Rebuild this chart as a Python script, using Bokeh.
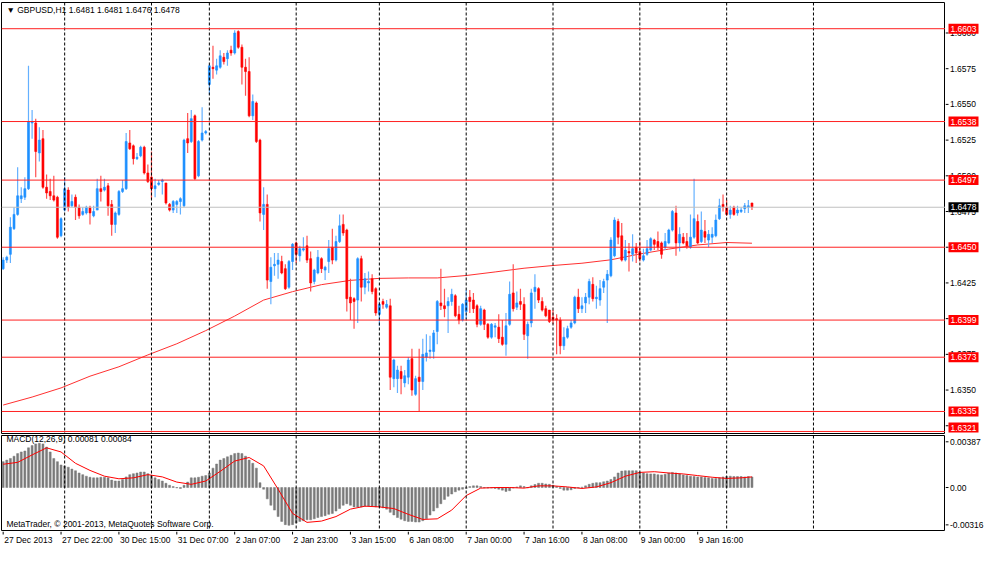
from bokeh.plotting import figure
from bokeh.models import Range1d, Span, Label
from bokeh.layouts import column, row
from bokeh.core.properties import value
from bokeh.embed import file_html
from bokeh.resources import INLINE

FONT = "Liberation Sans"
FS = "8.5px"

# ---------------- data (GBPUSD H1) ----------------
opens = [1.6435,1.6441,1.6445,1.6463,1.6473,1.6484,1.6485,1.6491,1.6537,1.6537,
 1.6516,1.6526,1.6492,1.6489,1.6486,1.6485,1.6458,1.6476,1.6490,1.6479,
 1.6485,1.6478,1.6473,1.6474,1.6478,1.6472,1.6476,1.6491,1.6490,1.6493,
 1.6480,1.6466,1.6473,1.6489,1.6491,1.6523,1.6521,1.6512,1.6514,1.6520,
 1.6502,1.6499,1.6491,1.6494,1.6496,1.6495,1.6480,1.6476,1.6480,1.6482,
 1.6479,1.6526,1.6524,1.6542,1.6500,1.6525,1.6530,1.6564,1.6576,1.6574,
 1.6576,1.6583,1.6582,1.6588,1.6586,1.6601,1.6590,1.6576,1.6573,1.6542,
 1.6551,1.6525,1.6473,1.6480,1.6426,1.6437,1.6438,1.6440,1.6435,1.6422,
 1.6440,1.6453,1.6444,1.6448,1.6451,1.6442,1.6426,1.6432,1.6442,1.6434,
 1.6440,1.6450,1.6441,1.6454,1.6466,1.6462,1.6415,1.6414,1.6413,1.6442,
 1.6422,1.6425,1.6428,1.6421,1.6403,1.6412,1.6408,1.6409,1.6358,1.6358,
 1.6363,1.6355,1.6359,1.6372,1.6347,1.6359,1.6356,1.6373,1.6377,1.6377,
 1.6391,1.6411,1.6409,1.6409,1.6412,1.6416,1.6403,1.6399,1.6405,1.6415,
 1.6413,1.6409,1.6396,1.6406,1.6396,1.6387,1.6394,1.6394,1.6387,1.6382,
 1.6396,1.6418,1.6408,1.6412,1.6410,1.6388,1.6397,1.6419,1.6421,1.6412,
 1.6407,1.6406,1.6401,1.6400,1.6399,1.6381,1.6387,1.6394,1.6397,1.6415,
 1.6407,1.6411,1.6415,1.6424,1.6414,1.6413,1.6422,1.6427,1.6430,1.6444,
 1.6468,1.6458,1.6441,1.6447,1.6445,1.6450,1.6447,1.6441,1.6445,1.6448,
 1.6455,1.6454,1.6453,1.6450,1.6453,1.6462,1.6474,1.6453,1.6457,1.6454,
 1.6450,1.6457,1.6468,1.6454,1.6461,1.6455,1.6457,1.6458,1.6470,1.6480,
 1.6478,1.6473,1.6478,1.6474,1.6475,1.6477,1.6478,1.6481]
closes = [1.6441,1.6443,1.6464,1.6473,1.6486,1.6486,1.6491,1.6538,1.6538,1.6517,
 1.6525,1.6492,1.6488,1.6486,1.6483,1.6457,1.6470,1.6491,1.6478,1.6482,
 1.6478,1.6472,1.6475,1.6478,1.6474,1.6475,1.6491,1.6489,1.6492,1.6479,
 1.6466,1.6474,1.6489,1.6491,1.6524,1.6519,1.6512,1.6513,1.6520,1.6502,
 1.6496,1.6491,1.6493,1.6495,1.6497,1.6481,1.6476,1.6482,1.6482,1.6484,
 1.6525,1.6523,1.6540,1.6498,1.6524,1.6530,1.6531,1.6577,1.6575,1.6577,
 1.6584,1.6580,1.6586,1.6586,1.6600,1.6590,1.6576,1.6573,1.6542,1.6552,
 1.6524,1.6474,1.6480,1.6427,1.6436,1.6438,1.6441,1.6432,1.6421,1.6440,
 1.6452,1.6445,1.6449,1.6449,1.6441,1.6425,1.6434,1.6443,1.6435,1.6436,
 1.6449,1.6441,1.6454,1.6465,1.6460,1.6414,1.6411,1.6412,1.6442,1.6422,
 1.6428,1.6426,1.6419,1.6404,1.6410,1.6410,1.6410,1.6359,1.6371,1.6364,
 1.6358,1.6360,1.6371,1.6350,1.6358,1.6356,1.6375,1.6376,1.6378,1.6390,
 1.6412,1.6409,1.6407,1.6412,1.6417,1.6402,1.6399,1.6410,1.6413,1.6412,
 1.6407,1.6396,1.6407,1.6396,1.6387,1.6396,1.6395,1.6386,1.6382,1.6395,
 1.6417,1.6407,1.6411,1.6410,1.6389,1.6396,1.6418,1.6422,1.6413,1.6406,
 1.6402,1.6398,1.6399,1.6399,1.6381,1.6387,1.6393,1.6397,1.6415,1.6407,
 1.6409,1.6415,1.6426,1.6414,1.6415,1.6421,1.6426,1.6431,1.6455,1.6469,
 1.6457,1.6441,1.6448,1.6446,1.6449,1.6446,1.6442,1.6444,1.6449,1.6456,
 1.6452,1.6450,1.6445,1.6454,1.6462,1.6475,1.6453,1.6459,1.6453,1.6451,
 1.6457,1.6470,1.6453,1.6462,1.6457,1.6459,1.6459,1.6469,1.6479,1.6478,
 1.6473,1.6476,1.6473,1.6476,1.6476,1.6479,1.6479,1.6478]
highs = [1.6443,1.6444,1.6471,1.6478,1.6506,1.6492,1.6499,1.6577,1.6546,1.6540,
 1.6534,1.6532,1.6501,1.6498,1.6500,1.6486,1.6471,1.6499,1.6492,1.6487,
 1.6487,1.6480,1.6478,1.6479,1.6479,1.6479,1.6498,1.6500,1.6498,1.6495,
 1.6483,1.6475,1.6490,1.6497,1.6530,1.6532,1.6522,1.6516,1.6521,1.6521,
 1.6508,1.6517,1.6498,1.6497,1.6498,1.6495,1.6481,1.6483,1.6483,1.6485,
 1.6526,1.6544,1.6546,1.6543,1.6525,1.6548,1.6532,1.6578,1.6591,1.6582,
 1.6588,1.6586,1.6588,1.6591,1.6602,1.6602,1.6592,1.6582,1.6583,1.6557,
 1.6552,1.6526,1.6492,1.6487,1.6443,1.6446,1.6446,1.6444,1.6438,1.6441,
 1.6453,1.6454,1.6451,1.6457,1.6458,1.6447,1.6435,1.6448,1.6443,1.6437,
 1.6455,1.6463,1.6458,1.6473,1.6473,1.6463,1.6428,1.6415,1.6443,1.6444,
 1.6432,1.6433,1.6431,1.6422,1.6412,1.6414,1.6413,1.6414,1.6372,1.6367,
 1.6367,1.6364,1.6373,1.6379,1.6360,1.6379,1.6386,1.6389,1.6388,1.6392,
 1.6413,1.6435,1.6421,1.6415,1.6421,1.6417,1.6409,1.6411,1.6420,1.6420,
 1.6418,1.6410,1.6409,1.6407,1.6397,1.6397,1.6397,1.6403,1.6399,1.6404,
 1.6426,1.6438,1.6419,1.6421,1.6415,1.6398,1.6421,1.6431,1.6422,1.6415,
 1.6409,1.6406,1.6406,1.6403,1.6401,1.6394,1.6395,1.6399,1.6416,1.6421,
 1.6415,1.6418,1.6428,1.6429,1.6423,1.6427,1.6428,1.6434,1.6457,1.6471,
 1.6470,1.6467,1.6455,1.6453,1.6459,1.6453,1.6454,1.6449,1.6455,1.6457,
 1.6456,1.6461,1.6454,1.6460,1.6463,1.6476,1.6479,1.6464,1.6460,1.6460,
 1.6473,1.6498,1.6473,1.6475,1.6469,1.6462,1.6464,1.6473,1.6484,1.6487,
 1.6483,1.6479,1.6479,1.6479,1.6478,1.6481,1.6483,1.6481]
lows = [1.6434,1.6439,1.6439,1.6462,1.6472,1.6481,1.6483,1.6490,1.6526,1.6499,
 1.6510,1.6491,1.6484,1.6483,1.6482,1.6456,1.6457,1.6475,1.6475,1.6478,
 1.6469,1.6470,1.6472,1.6473,1.6466,1.6471,1.6476,1.6482,1.6489,1.6472,
 1.6458,1.6460,1.6472,1.6488,1.6490,1.6518,1.6508,1.6511,1.6513,1.6501,
 1.6495,1.6484,1.6485,1.6493,1.6487,1.6480,1.6475,1.6474,1.6474,1.6473,
 1.6478,1.6516,1.6523,1.6497,1.6499,1.6524,1.6529,1.6557,1.6568,1.6571,
 1.6575,1.6578,1.6577,1.6584,1.6585,1.6589,1.6564,1.6556,1.6541,1.6539,
 1.6523,1.6468,1.6462,1.6421,1.6410,1.6430,1.6428,1.6431,1.6420,1.6421,
 1.6434,1.6439,1.6440,1.6447,1.6439,1.6419,1.6424,1.6431,1.6432,1.6427,
 1.6432,1.6438,1.6440,1.6453,1.6458,1.6405,1.6399,1.6393,1.6397,1.6412,
 1.6417,1.6419,1.6417,1.6402,1.6395,1.6407,1.6407,1.6350,1.6352,1.6348,
 1.6347,1.6352,1.6354,1.6346,1.6346,1.6335,1.6350,1.6370,1.6372,1.6372,
 1.6382,1.6406,1.6401,1.6390,1.6409,1.6401,1.6396,1.6398,1.6400,1.6404,
 1.6404,1.6394,1.6395,1.6392,1.6386,1.6386,1.6387,1.6383,1.6381,1.6374,
 1.6395,1.6405,1.6406,1.6406,1.6385,1.6372,1.6394,1.6407,1.6411,1.6405,
 1.6401,1.6397,1.6396,1.6375,1.6375,1.6378,1.6386,1.6393,1.6396,1.6404,
 1.6404,1.6404,1.6410,1.6412,1.6407,1.6409,1.6418,1.6397,1.6429,1.6443,
 1.6452,1.6440,1.6440,1.6433,1.6440,1.6439,1.6440,1.6440,1.6444,1.6447,
 1.6448,1.6448,1.6442,1.6448,1.6452,1.6461,1.6444,1.6447,1.6452,1.6449,
 1.6449,1.6456,1.6452,1.6453,1.6453,1.6450,1.6453,1.6457,1.6469,1.6475,
 1.6472,1.6470,1.6472,1.6472,1.6474,1.6474,1.6474,1.6476]

# moving average read every 8 bars (+ last bar)
ma_idx = [0,8,16,24,32,40,48,56,64,72,80,88,96,104,112,120,128,136,144,152,160,168,176,184,192,200,207]
ma_vals = [1.63395,1.63451,1.63515,1.63597,1.63663,1.63746,1.63824,1.63916,1.64018,1.64130,
 1.64189,1.64238,1.64268,1.64282,1.64285,1.64285,1.64302,1.64327,1.64353,1.64372,
 1.64388,1.64412,1.64453,1.64487,1.64516,1.64533,1.64528]

macd_hist = [0.00219,0.00232,0.00246,0.00265,0.00287,0.00301,0.00309,0.00336,0.00355,0.00369,
 0.00374,0.00369,0.00342,0.00301,0.00246,0.00219,0.00191,0.00183,0.00172,0.00156,
 0.00142,0.00123,0.00109,0.00096,0.00087,0.00082,0.00082,0.00087,0.00087,0.00082,
 0.00063,0.00055,0.00055,0.00068,0.00090,0.00109,0.00117,0.00123,0.00131,0.00131,
 0.00117,0.00101,0.00082,0.00068,0.00055,0.00036,0.00019,0.00008,-0.00003,-0.00008,
 0.00019,0.00046,0.00082,0.00082,0.00087,0.00096,0.00101,0.00123,0.00164,0.00199,
 0.00232,0.00246,0.00260,0.00273,0.00287,0.00292,0.00287,0.00265,0.00232,0.00205,
 0.00164,0.00041,-0.00014,-0.00096,-0.00150,-0.00191,-0.00246,-0.00287,-0.00314,-0.00320,
 -0.00314,-0.00301,-0.00287,-0.00281,-0.00273,-0.00273,-0.00265,-0.00254,-0.00246,-0.00238,
 -0.00227,-0.00219,-0.00199,-0.00178,-0.00150,-0.00137,-0.00150,-0.00164,-0.00164,-0.00164,
 -0.00158,-0.00156,-0.00156,-0.00164,-0.00164,-0.00172,-0.00183,-0.00210,-0.00232,-0.00254,
 -0.00268,-0.00281,-0.00287,-0.00287,-0.00292,-0.00292,-0.00281,-0.00265,-0.00232,-0.00199,
 -0.00172,-0.00137,-0.00101,-0.00074,-0.00055,-0.00036,-0.00022,-0.00014,-0.00008,0.00008,
 0.00014,0.00014,0.00008,-0.00003,-0.00005,-0.00005,-0.00008,-0.00014,-0.00022,-0.00033,
 -0.00027,-0.00005,0.00005,0.00014,0.00008,-0.00003,0.00014,0.00025,0.00036,0.00036,
 0.00030,0.00027,0.00019,0.00008,-0.00008,-0.00022,-0.00022,-0.00019,-0.00008,-0.00003,
 0.00003,0.00014,0.00027,0.00036,0.00041,0.00041,0.00049,0.00055,0.00068,0.00090,
 0.00123,0.00139,0.00142,0.00142,0.00142,0.00142,0.00131,0.00123,0.00117,0.00115,
 0.00115,0.00109,0.00107,0.00112,0.00123,0.00128,0.00123,0.00115,0.00107,0.00101,
 0.00096,0.00093,0.00090,0.00090,0.00085,0.00082,0.00077,0.00077,0.00082,0.00090,
 0.00093,0.00096,0.00093,0.00093,0.00093,0.00090,0.00093,0.00090]

signal_idx = [0,4,8,12,16,20,24,28,32,36,40,44,48,52,56,60,64,68,72,76,80,84,88,92,96,100,
 104,108,112,116,120,124,128,132,136,140,144,148,152,156,160,164,168,172,176,180,184,188,192,196,200,204,207]
signal_vals = [0.00197,0.00213,0.00276,0.00336,0.00301,0.00205,0.00145,0.00096,0.00074,0.00082,
 0.00109,0.00090,0.00046,0.00027,0.00055,0.00137,0.00224,0.00254,0.00183,-0.00014,
 -0.00219,-0.00295,-0.00284,-0.00246,-0.00183,-0.00158,-0.00164,-0.00178,-0.00227,-0.00270,
 -0.00265,-0.00191,-0.00068,-0.00005,0.00000,0.00000,-0.00005,0.00014,0.00014,0.00005,
 -0.00008,0.00005,0.00041,0.00096,0.00128,0.00134,0.00123,0.00115,0.00101,0.00087,
 0.00077,0.00082,0.00090]

levels = [1.6603, 1.6538, 1.6497, 1.6450, 1.6399, 1.6373, 1.6335, 1.6321]
bid = 1.6478
day_breaks = [17, 41, 57, 81, 104, 128, 152, 176, 200, 224]
time_ticks = [0,16,32,48,64,80,96,112,128,144,160,176,192]
time_labels = ["27 Dec 2013","27 Dec 22:00","30 Dec 15:00","31 Dec 07:00","2 Jan 07:00",
 "2 Jan 23:00","3 Jan 15:00","6 Jan 08:00","7 Jan 00:00","7 Jan 16:00","8 Jan 08:00",
 "9 Jan 00:00","9 Jan 16:00"]
price_ticks = [1.6325,1.6350,1.6375,1.6400,1.6425,1.6450,1.6475,1.6500,1.6525,1.6550,1.6575,1.6600]
macd_ticks = [-0.00316, 0.0, 0.00387]
macd_tick_labels = ["-0.00316", "0.00", "0.00387"]
title_text = "\u25bc GBPUSD,H1  1.6481 1.6481 1.6476 1.6478"
macd_text = "MACD(12,26,9) 0.00081 0.00084"
copy_text = "MetaTrader, \u00a9 2001-2013, MetaQuotes Software Corp."

# ---------------- layout constants ----------------
W = 984
AXW = 39                      # right price-scale strip (px)
MAIN_H, MACD_H, TIME_H = 434, 97, 15
MAIN_FRAME = MAIN_H - 3
X0, X1 = -0.46, 260.5
xr = Range1d(X0, X1)
PY0, PY1 = 1.631958, 1.662135
pyr = Range1d(PY0, PY1)
myr = Range1d(-0.003637, 0.004403)
TAG_H = 10

def base(fig):
    fig.grid.visible = False
    fig.background_fill_color = "white"
    fig.border_fill_color = "white"
    return fig

def pane(h, yr, top, bottom):
    f = figure(width=W - AXW, height=h, x_range=xr, y_range=yr, output_backend="svg",
               toolbar_location=None, x_axis_location=None, y_axis_location=None,
               min_border_left=1, min_border_right=0, min_border_top=top,
               min_border_bottom=bottom)
    base(f)
    f.outline_line_color = "black"
    f.outline_line_alpha = 1
    f.outline_line_width = 1
    for d in day_breaks:
        f.add_layout(Span(location=d, dimension="height", line_color="black",
                          line_width=1, line_dash="3 2"))
    return f

def strip(h, yr, top, bottom):
    f = figure(width=AXW, height=h, x_range=Range1d(0, AXW), y_range=yr,
               output_backend="svg", toolbar_location=None, x_axis_location=None,
               y_axis_location=None, min_border_left=0, min_border_right=0,
               min_border_top=top, min_border_bottom=bottom)
    base(f)
    f.outline_line_color = None
    return f

def scale_labels(f, ticks, labels):
    f.segment(x0=[0] * len(ticks), x1=[3] * len(ticks), y0=ticks, y1=ticks,
              line_color="black", line_width=1)
    f.text(x=[4.5] * len(ticks), y=ticks, text=labels, text_font=value(FONT),
           text_font_size=value(FS), text_color="black", text_align="left",
           text_baseline="middle")

def tag(f, ys, labels, color):
    # keep a tag inside the pane when its level sits on the pane's lower edge
    half = (TAG_H / 2 + 1) * (PY1 - PY0) / MAIN_FRAME
    ys = [max(y, PY0 + half) for y in ys]
    f.rect(x=[18] * len(ys), y=ys, width=30, height=TAG_H, width_units="screen",
           height_units="screen", fill_color=color, line_color=None)
    f.text(x=[18] * len(ys), y=ys, text=labels, text_font=value(FONT),
           text_font_size=value(FS), text_color="white", text_align="center",
           text_baseline="middle")

# ---------------- main price pane ----------------
p = pane(MAIN_H, pyr, 2, 1)
for lv in levels:
    p.add_layout(Span(location=lv, dimension="width", line_color="#ff2020", line_width=1))
p.add_layout(Span(location=bid, dimension="width", line_color="#c0c0c0", line_width=1))

idx = list(range(len(opens)))
up = [c >= o for o, c in zip(opens, closes)]
body_col = ["#1e90ff" if u else "#ff0000" for u in up]
wick_col = ["#64b0ff" if u else "#ff5050" for u in up]
tops = [max(o, c) for o, c in zip(opens, closes)]
bots = [min(o, c) for o, c in zip(opens, closes)]

p.line(ma_idx, ma_vals, line_color="#ff3030", line_width=1)
p.segment(x0=idx, y0=lows, x1=idx, y1=highs, line_color=wick_col, line_width=1.2)
p.vbar(x=idx, width=0.55, top=tops, bottom=bots, fill_color=body_col,
       line_color=body_col, line_width=0.6)
p.add_layout(Label(x=0.9, y=1.66159, text=title_text, text_align="left",
                   text_baseline="middle", text_color="black", text_font=FONT,
                   text_font_size=FS))

ps = strip(MAIN_H, pyr, 2, 1)
scale_labels(ps, price_ticks, ["%.4f" % t for t in price_ticks])
tag(ps, levels, ["%.4f" % lv for lv in levels], "#ff0000")
tag(ps, [bid], ["%.4f" % bid], "#000000")

# ---------------- MACD pane ----------------
q = pane(MACD_H, myr, 1, 1)
q.vbar(x=idx, width=0.55, top=macd_hist, bottom=0, fill_color="#7a7a7a",
       line_color="#7a7a7a", line_width=0.5)
q.line(signal_idx, signal_vals, line_color="#ff0000", line_width=1)
q.add_layout(Label(x=0.9, y=0.004075, text=macd_text, text_align="left",
                   text_baseline="middle", text_color="black", text_font=FONT,
                   text_font_size=FS))
q.add_layout(Label(x=0.9, y=-0.00306, text=copy_text, text_align="left",
                   text_baseline="middle", text_color="black", text_font=FONT,
                   text_font_size=FS))

qs = strip(MACD_H, myr, 1, 1)
scale_labels(qs, macd_ticks, macd_tick_labels)

# ---------------- time scale ----------------
t = figure(width=W, height=TIME_H, x_range=xr, y_range=Range1d(0, TIME_H),
           output_backend="svg", toolbar_location=None, x_axis_location=None,
           y_axis_location=None, min_border_left=1, min_border_right=AXW,
           min_border_top=0, min_border_bottom=0)
base(t)
t.outline_line_color = None
t.segment(x0=time_ticks, x1=time_ticks, y0=[TIME_H] * len(time_ticks),
          y1=[TIME_H - 3] * len(time_ticks), line_color="black", line_width=1)
t.text(x=time_ticks, y=[TIME_H - 8] * len(time_ticks), text=time_labels,
       text_font=value(FONT), text_font_size=value(FS), text_color="black",
       text_align="left", text_baseline="middle", x_offset=1)

layout = column(row(p, ps, spacing=0), row(q, qs, spacing=0), t, spacing=0)
open("out.html", "w").write(file_html(layout, INLINE))
